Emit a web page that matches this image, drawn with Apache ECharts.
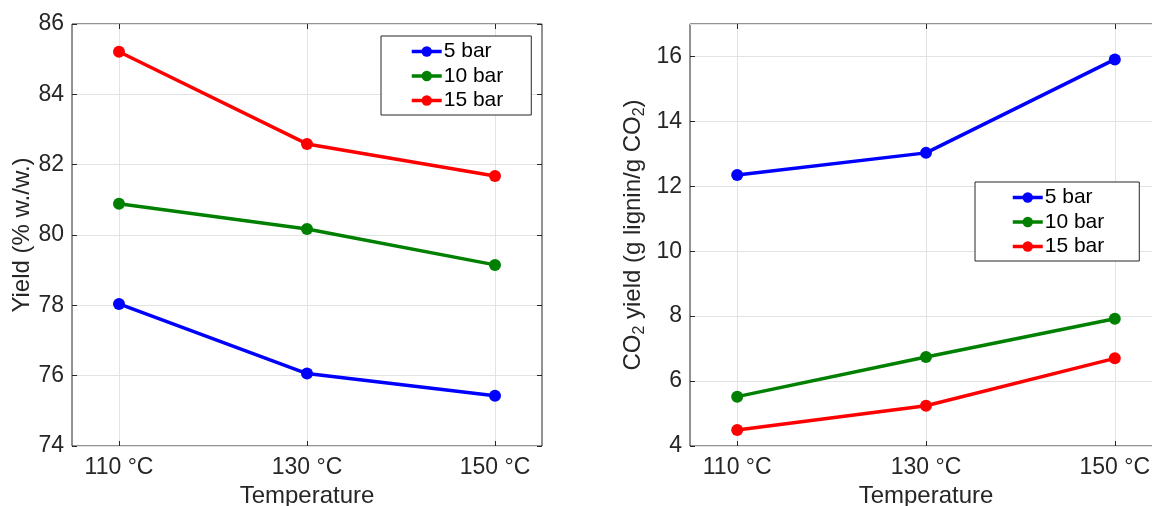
<!DOCTYPE html>
<html>
<head>
<meta charset="utf-8">
<script src="https://cdn.jsdelivr.net/npm/echarts@6/dist/echarts.min.js"></script>
<style>
  html, body { margin: 0; padding: 0; background: #fff; }
  #chart { width: 1152px; height: 506px; }
</style>
</head>
<body>
<div id="chart"></div>
<script>
// temperatures (°C)
var temps = [110, 130, 150];
var seriesNames = ['5 bar', '10 bar', '15 bar'];
var colors = ['#0000ff', '#008000', '#ff0000'];

// left: yield (% w./w.)
var yield5 = [78.04, 76.06, 75.43];
var yield10 = [80.89, 80.17, 79.15];
var yield15 = [85.21, 82.59, 81.68];

// right: CO2 yield (g lignin / g CO2)
var co2_5 = [12.35, 13.03, 15.91];
var co2_10 = [5.52, 6.74, 7.92];
var co2_15 = [4.49, 5.24, 6.70];

var FONT = "'Liberation Sans', Arial, Helvetica, sans-serif";
var TXT = '#262626';
var TICK_FS = 23;
var NAME_FS = 24;

function pts(arr) {
  return temps.map(function (t, i) { return [t, arr[i]]; });
}

function xAx(gridIndex, pos) {
  var bottom = pos === 'bottom';
  return {
    type: 'value', gridIndex: gridIndex, position: pos,
    min: 105, max: 155,
    axisLine: { show: false },
    axisTick: { show: true, inside: true, length: 5, customValues: temps,
      lineStyle: { color: TXT, width: 1 } },
    axisLabel: { show: bottom, customValues: temps, margin: 10,
      color: TXT, fontSize: TICK_FS, fontFamily: FONT,
      formatter: function (v) { return v + ' °C'; } },
    splitLine: { show: bottom, lineStyle: { color: '#e3e3e3', width: 1 } },
    name: bottom ? 'Temperature' : '', nameLocation: 'middle', nameGap: 38,
    nameTextStyle: { color: TXT, fontSize: NAME_FS, fontFamily: FONT }
  };
}

function yAx(gridIndex, pos, min, max, name, nameGap, rich, hideMax) {
  var left = pos === 'left';
  return {
    type: 'value', gridIndex: gridIndex, position: pos,
    min: min, max: max, interval: 2,
    axisLine: { show: false },
    axisTick: { show: true, inside: true, length: 5,
      lineStyle: { color: TXT, width: 1 } },
    axisLabel: { show: left, margin: 8, color: TXT, fontSize: TICK_FS, fontFamily: FONT,
      showMaxLabel: !hideMax },
    splitLine: { show: left, lineStyle: { color: '#e3e3e3', width: 1 } },
    name: left ? name : '', nameLocation: 'middle', nameGap: nameGap,
    nameTextStyle: { color: TXT, fontSize: NAME_FS, fontFamily: FONT, rich: rich }
  };
}

function lineSeries(i, data, xi, yi) {
  return {
    type: 'line', name: seriesNames[i], xAxisIndex: xi, yAxisIndex: yi,
    data: pts(data), symbol: 'circle', symbolSize: 12,
    lineStyle: { color: colors[i], width: 3.5 },
    itemStyle: { color: colors[i] },
    z: 3
  };
}

function legendAt(left, top, padL, padR) {
  return {
    left: left, top: top, orient: 'vertical',
    data: seriesNames,
    itemWidth: 30, itemHeight: 13, itemGap: 3.5,
    padding: [5, padR, 4, padL],
    borderColor: TXT, borderWidth: 1, borderRadius: 0,
    backgroundColor: '#fff',
    lineStyle: { width: 3.5 },
    textStyle: { color: '#000', fontSize: 21, fontFamily: FONT, padding: [0, 0, 0, -3] },
    selectedMode: false
  };
}

var co2Rich = {
  a: { fontSize: NAME_FS, fontFamily: FONT, color: TXT },
  s: { fontSize: 16, fontFamily: FONT, color: TXT, padding: [14, 0, 0, 0] }
};

var chart = echarts.init(document.getElementById('chart'), null, { renderer: 'canvas' });
chart.setOption({
  animation: false,
  backgroundColor: '#fff',
  grid: [
    { left: 72, top: 24, width: 470, height: 422, show: true, borderColor: TXT, borderWidth: 1,
      backgroundColor: 'transparent', outerBoundsMode: 'none', containLabel: false },
    { left: 690, top: 24, width: 472, height: 422, show: true, borderColor: TXT, borderWidth: 1,
      backgroundColor: 'transparent', outerBoundsMode: 'none', containLabel: false }
  ],
  xAxis: [xAx(0, 'bottom'), xAx(0, 'top'), xAx(1, 'bottom'), xAx(1, 'top')],
  yAxis: [
    yAx(0, 'left', 74, 86, 'Yield (% w./w.)', 37),
    yAx(0, 'right', 74, 86, ''),
    yAx(1, 'left', 4, 17, '{a|CO}{s|2}{a| yield (g lignin/g CO}{s|2}{a|)}', 42, co2Rich, true),
    yAx(1, 'right', 4, 17, '')
  ],
  legend: [legendAt(381, 36, 29, 28), legendAt(975, 182, 36, 35)],
  series: [
    lineSeries(0, yield5, 0, 0),
    lineSeries(1, yield10, 0, 0),
    lineSeries(2, yield15, 0, 0),
    lineSeries(0, co2_5, 2, 2),
    lineSeries(1, co2_10, 2, 2),
    lineSeries(2, co2_15, 2, 2)
  ]
});
</script>
</body>
</html>
